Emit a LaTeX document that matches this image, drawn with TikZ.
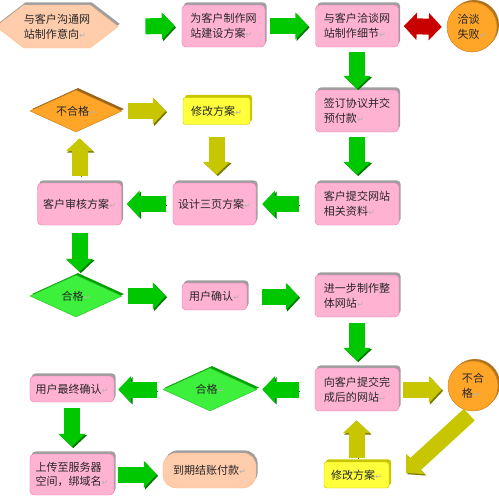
\documentclass[tikz,border=0pt]{standalone}
\usepackage{fontspec}
\setmainfont{Noto Sans CJK SC}
\newfontfamily\symfont{DejaVu Sans}
\usetikzlibrary{shapes.geometric,shapes.symbols,shadows,arrows.meta}

\definecolor{boxpink}{RGB}{255,178,210}
\definecolor{pinkedge}{RGB}{236,130,180}
\definecolor{peach}{RGB}{255,204,172}
\definecolor{flowgreen}{RGB}{0,200,0}
\definecolor{flowolive}{RGB}{200,198,0}
\definecolor{boxyellow}{RGB}{255,255,60}
\definecolor{failorange}{RGB}{255,165,40}
\definecolor{passgreen}{RGB}{60,240,60}
\definecolor{dealred}{RGB}{200,0,0}

% paragraph mark after each text
\newcommand{\pmark}{{\symfont\fontsize{7}{7}\selectfont\color{gray!60}↵}}

\tikzset{
  base/.style={align=left, inner sep=0pt, text=black!85,
    font=\fontsize{9.4}{12.6}\selectfont},
  stepbox/.style={base, draw=pinkedge, fill=boxpink, rounded corners=0.12cm,
    minimum width=2.52cm, minimum height=1.26cm,
    general shadow={fill=gray!75, shadow xshift=0.05cm, shadow yshift=0.08cm}},
  fixbox/.style={base, draw=flowolive, fill=boxyellow, rounded corners=0.08cm,
    minimum width=2.01cm, minimum height=0.81cm,
    general shadow={fill=flowolive, shadow xshift=0.06cm, shadow yshift=0.08cm}},
  hexbox/.style={base, signal, signal to=west and east, signal pointer angle=75,
    draw=peach!80!orange, fill=peach, minimum width=3.18cm, minimum height=1.29cm,
    general shadow={fill=gray!75, shadow xshift=0.05cm, shadow yshift=0.08cm}},
  paybox/.style={base, draw=peach!80!orange, fill=peach, rounded corners=0.4cm,
    minimum width=2.79cm, minimum height=1.05cm,
    general shadow={fill=gray!75, shadow xshift=0.05cm, shadow yshift=0.08cm}},
  failball/.style={base, circle, draw=failorange!80!black, fill=failorange,
    minimum size=1.5cm,
    general shadow={fill=failorange!70!black, shadow xshift=0.06cm, shadow yshift=0.06cm}},
  nodiamond/.style={base, diamond, aspect=2.2, draw=failorange!80!black, fill=failorange,
    minimum width=2.76cm, minimum height=1.26cm,
    general shadow={fill=failorange!60!black, shadow xshift=0.06cm, shadow yshift=0.06cm}},
  okdiamond/.style={base, diamond, aspect=2.2, draw=passgreen!80!black, fill=passgreen,
    minimum width=2.76cm, minimum height=1.26cm,
    general shadow={fill=flowgreen!80!black, shadow xshift=0.06cm, shadow yshift=0.06cm}},
  flow/.style={line width=0.48cm, -{Triangle[length=0.39cm,width=0.8cm]}},
  greenflow/.style={flow, draw=flowgreen,
    preaction={draw=flowgreen!60!black, transform canvas={shift={(0.04cm,-0.04cm)}}}},
  oliveflow/.style={flow, draw=flowolive,
    preaction={draw=flowolive!60!black, transform canvas={shift={(0.04cm,-0.04cm)}}}},
  redflow/.style={line width=0.48cm, draw=dealred,
    {Triangle[length=0.39cm,width=0.8cm]}-{Triangle[length=0.39cm,width=0.8cm]}},
}

\begin{document}
\begin{tikzpicture}[x=0.03cm,y=-0.03cm]
  \useasboundingbox (0,0) rectangle (499,495);

  % nodes
  \node[hexbox] (intent) at (57,26.5) {与客户沟通网\\站制作意向\pmark};
  \node[stepbox, minimum width=2.49cm] (plan) at (223.5,26) {为客户制作网\\站建设方案\pmark};
  \node[stepbox, minimum width=2.49cm] (detail) at (357,26) {与客户洽谈网\\站制作细节\pmark};
  \node[failball] (fail) at (472,27) {洽谈\\失败\pmark};
  \node[stepbox, minimum width=2.49cm] (sign) at (357,111) {签订协议并交\\预付款\pmark};
  \node[nodiamond] (nopassA) at (76,111) {不合格\pmark};
  \node[fixbox] (reviseA) at (216.5,111) {修改方案\pmark};
  \node[stepbox] (review) at (79.5,204) {客户审核方案\pmark};
  \node[stepbox, minimum width=2.49cm] (design) at (214.5,204) {设计三页方案\pmark};
  \node[stepbox] (material) at (357,204) {客户提交网站\\相关资料\pmark};
  \node[okdiamond] (passA) at (76,296) {合格\pmark};
  \node[stepbox, minimum width=1.95cm, minimum height=0.81cm] (confirm) at (214.5,296.5) {用户确认\pmark};
  \node[stepbox] (build) at (357,296) {进一步制作整\\体网站\pmark};
  \node[stepbox, minimum height=1.29cm] (deliver) at (357,389.5) {向客户提交完\\成后的网站\pmark};
  \node[failball] (nopassB) at (473,386) {不合\\格\pmark};
  \node[okdiamond, minimum width=2.82cm, minimum height=1.29cm] (passB) at (210,389.5) {合格\pmark};
  \node[stepbox, minimum height=0.78cm] (final) at (72,389) {用户最终确认\pmark};
  \node[stepbox, minimum height=1.23cm] (upload) at (72,474.5) {上传至服务器\\空间，绑域名\pmark};
  \node[paybox] (pay) at (209.5,470.5) {到期结账付款\pmark};
  \node[fixbox, minimum width=1.95cm, minimum height=0.78cm] (reviseB) at (356.5,475) {修改方案\pmark};

  % connectors
  \draw[greenflow, shorten <=0.81cm, shorten >=0.21cm] (intent.east) -- (plan.west);
  \draw[greenflow, shorten <=0.15cm, shorten >=0.21cm] (plan.east) -- (detail.west);
  \draw[redflow, shorten <=0.15cm, shorten >=0.15cm] (detail.east) -- (fail.west);
  \draw[greenflow, shorten <=0.15cm, shorten >=0.03cm] (detail.south) -- (sign.north);
  \draw[greenflow, shorten <=0.15cm, shorten >=0.24cm] (sign.south) -- (material.north);
  \draw[greenflow, shorten <=0.48cm, shorten >=0.18cm] (material.west) -- (design.east);
  \draw[greenflow, shorten <=0.21cm, shorten >=0.15cm] (design.west) -- (review.east);
  \draw[oliveflow, shorten <=0.21cm, shorten >=0.18cm] (review.north) -- (review.north |- nopassA.south);
  \draw[oliveflow, shorten <=0.18cm, shorten >=0.51cm] (nopassA.east) -- (nopassA.east -| reviseA.west);
  \draw[oliveflow, shorten <=0.36cm, shorten >=0.24cm] (reviseA.south) -- (reviseA.south |- design.north);
  \draw[greenflow, shorten <=0.24cm, shorten >=0.09cm] (review.south) -- (review.south |- passA.north);
  \draw[greenflow, shorten <=0.18cm, shorten >=0.48cm] (passA.east) -- (passA.east -| confirm.west);
  \draw[greenflow, shorten <=0.45cm, shorten >=0.48cm] (confirm.east) -- (confirm.east -| build.west);
  \draw[greenflow, shorten <=0.18cm, shorten >=0.21cm] (build.south) -- (deliver.north);
  \draw[greenflow, shorten <=0.48cm, shorten >=0.15cm] (deliver.west) -- (passB.east);
  \draw[greenflow, shorten <=0.18cm, shorten >=0.12cm] (passB.west) -- (passB.west -| final.east);
  \draw[greenflow, shorten <=0.18cm, shorten >=0.21cm] (final.south) -- (upload.north);
  \draw[greenflow, shorten <=0.12cm, shorten >=0.18cm] (upload.east) -- (upload.east -| pay.west);
  \draw[oliveflow, shorten <=0.12cm, shorten >=0.18cm] (deliver.east) -- (deliver.east -| nopassB.west);
  \draw[oliveflow, shorten <=0.15cm, shorten >=0.68cm] (nopassB.south) -- (reviseB.south east);
  \draw[oliveflow, shorten <=0.12cm, shorten >=0.27cm] (reviseB.north) -- (reviseB.north |- deliver.south);
\end{tikzpicture}
\end{document}
